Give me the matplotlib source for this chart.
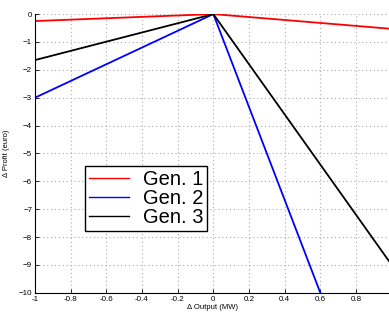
import matplotlib
matplotlib.use("Agg")
import matplotlib.pyplot as plt

# breakpoints of output change (MW) and profit change (euro)
output_mw = [-1.0, 0.0, 1.0]
gen1 = [-0.25, 0.0, -0.53]
gen2 = [-3.0, 0.0, -16.67]
gen3 = [-1.65, 0.0, -9.0]
labels = ["Gen. 1", "Gen. 2", "Gen. 3"]
colors = ["red", "blue", "black"]

plt.rcParams["font.family"] = ["Liberation Sans", "DejaVu Sans"]

fig = plt.figure(figsize=(3.89, 3.2), dpi=100)
ax = fig.add_axes([0.09, 0.085, 0.91, 0.871])

for ys, lab, c in zip([gen1, gen2, gen3], labels, colors):
    ax.plot(output_mw, ys, color=c, lw=1.3, label=lab)

ax.set_xlim(-1, 0.985)
ax.set_ylim(-10, 0)
ax.set_xticks([-1, -0.8, -0.6, -0.4, -0.2, 0, 0.2, 0.4, 0.6, 0.8])
ax.set_xticklabels(["-1", "-0.8", "-0.6", "-0.4", "-0.2", "0", "0.2", "0.4", "0.6", "0.8"])
ax.set_yticks(range(-10, 1))
ax.grid(True, linestyle=(0, (1, 2.5)), color="#aaaaaa", lw=0.8)
ax.tick_params(direction="in", labelsize=5.8, length=3, width=0.6, pad=2)
for s in ["top", "right"]:
    ax.spines[s].set_visible(False)
for s in ["left", "bottom"]:
    ax.spines[s].set_linewidth(0.8)

ax.set_xlabel("Δ Output (MW)", fontsize=5.5, labelpad=1)
ax.set_ylabel("Δ Profit (euro)", fontsize=5.5, labelpad=6)

leg = ax.legend(loc="lower left", bbox_to_anchor=(0.14, 0.222), fontsize=14.5,
                fancybox=False, framealpha=1, edgecolor="black",
                handlelength=2.0, borderpad=0.2, labelspacing=0.0,
                handletextpad=0.7, borderaxespad=0)
leg.get_frame().set_linewidth(1.0)
for h in leg.get_lines():
    h.set_linewidth(1.0)

fig.savefig("out.png", dpi=100)
